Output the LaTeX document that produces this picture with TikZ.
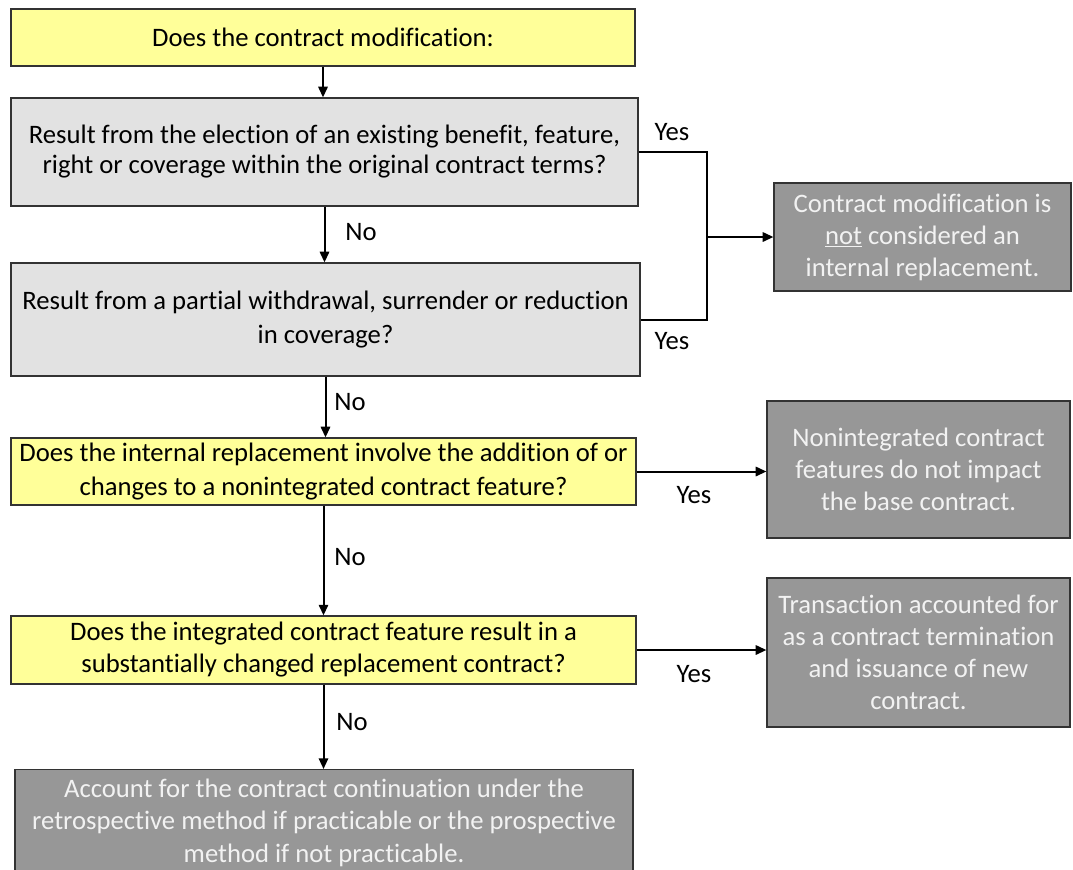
\documentclass[tikz,border=0pt]{standalone}
\usepackage{fontspec}
\setmainfont{Carlito}[Ligatures=NoCommon]
\usetikzlibrary{arrows.meta}
\definecolor{boxyellow}{HTML}{FFFF99}
\definecolor{boxlight}{HTML}{E2E2E2}
\definecolor{boxdark}{HTML}{979797}
\definecolor{boxline}{HTML}{333333}
\definecolor{darktext}{HTML}{F2F2F2}
\begin{document}
\begin{tikzpicture}[x=0.75pt,y=-0.75pt,
  base/.style={draw=boxline, line width=0.9pt, align=center, inner sep=0pt,
    font=\fontsize{20}{22.5}\selectfont},
  qyellow/.style={base, fill=boxyellow, text=black},
  qgray/.style={base, fill=boxlight, text=black},
  res/.style={base, fill=boxdark, text=darktext, font=\fontsize{20}{24}\selectfont},
  arr/.style={line width=1.5pt, -{Triangle[length=8pt,width=7pt]}},
  ln/.style={line width=1.5pt},
  lbl/.style={font=\fontsize{20}{22}\selectfont, inner sep=0pt}]
\useasboundingbox (0,0) rectangle (1073,869);

\node[qyellow, minimum width=468pt, minimum height=42.75pt] (b1) at (323,37.5) {Does the contract modification:};
\node[qgray, minimum width=470.25pt, minimum height=81pt] (b2) at (324.5,152)
  {Result from the election of an existing benefit, feature,\\ right or coverage within the original contract terms?};
\node[qgray, minimum width=471.75pt, minimum height=84.75pt, font=\fontsize{20}{25.5}\selectfont] (b3) at (325.5,319.5)
  {Result from a partial withdrawal, surrender or reduction\\ in coverage?};
\node[qyellow, minimum width=468.75pt, minimum height=50.25pt, font=\fontsize{20}{25.5}\selectfont] (b4) at (323.5,471.5)
  {Does the internal replacement involve the addition of or\\ changes to a nonintegrated contract feature?};
\node[qyellow, minimum width=468.75pt, minimum height=51pt, font=\fontsize{20}{24}\selectfont] (b5) at (323.5,650)
  {Does the integrated contract feature result in a\\ substantially changed replacement contract?};
\node[res, minimum width=463.5pt, minimum height=79.5pt, anchor=north, font=\fontsize{20}{24.4}\selectfont] (b6) at (324,769)
  {Account for the contract continuation under the\\ retrospective method if practicable or the prospective\\ method if not practicable.};

\node[res, minimum width=222.75pt, minimum height=81pt] (r1) at (922.5,237)
  {Contract modification is\\ \underline{not} considered an\\ internal replacement.};
\node[res, minimum width=227.25pt, minimum height=102.75pt] (r2) at (918.5,469.5)
  {Nonintegrated contract\\ features do not impact\\ the base contract.};
\node[res, minimum width=227.25pt, minimum height=111.75pt] (r3) at (918.5,652.5)
  {Transaction accounted for\\ as a contract termination\\ and issuance of new\\ contract.};

\coordinate (j) at (707,237);

\draw[arr] (b1.south) -- (b1.south |- b2.north);
\draw[arr] (b2.south) -- (b2.south |- b3.north);
\draw[arr] (b3.south) -- (b3.south |- b4.north);
\draw[arr] (b4.south) -- (b4.south |- b5.north);
\draw[arr] (b5.south) -- (b5.south |- b6.north);

\draw[ln] (b2.east) -| (j);
\draw[ln] (b3.east) -| (j);
\draw[arr] (j) -- (r1.west);
\draw[arr] (b4.east) -- (b4.east -| r2.west);
\draw[arr] (b5.east) -- (b5.east -| r3.west);

\node[lbl] (y1) at (672,132) {Yes};
\node[lbl] (y2) at (672,341) {Yes};
\node[lbl] (y3) at (694,495) {Yes};
\node[lbl] (y4) at (694,674) {Yes};
\node[lbl] (n1) at (361,232) {No};
\node[lbl] (n2) at (350,402) {No};
\node[lbl] (n3) at (350,557) {No};
\node[lbl] (n4) at (352,722) {No};
\end{tikzpicture}
\end{document}
